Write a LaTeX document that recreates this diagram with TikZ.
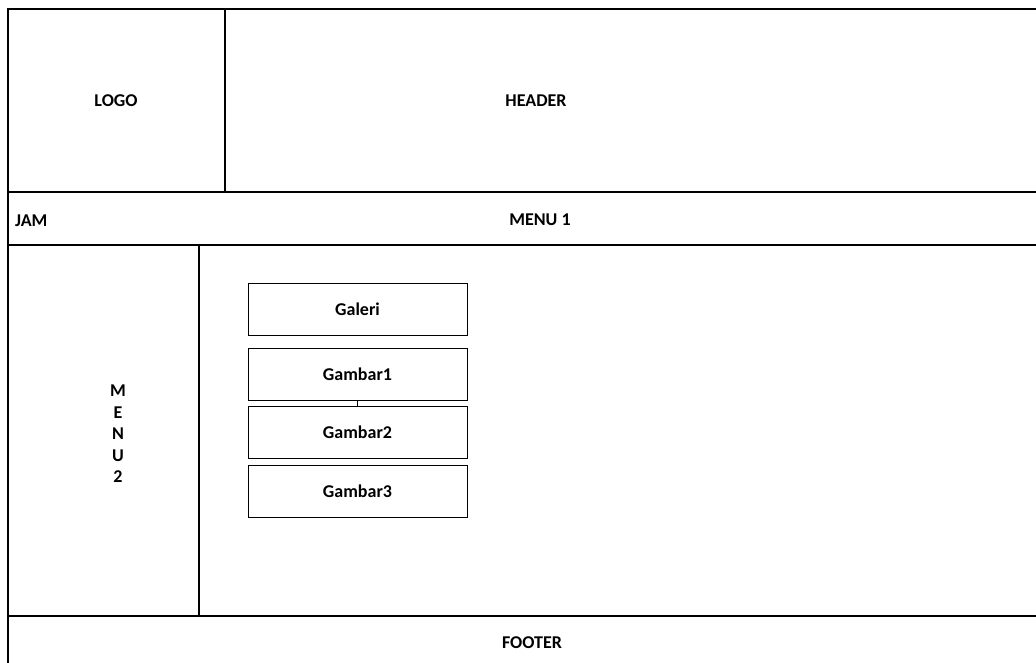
\documentclass[tikz,border=0pt]{standalone}
\usepackage{fontspec}
\setmainfont{Carlito}
\usetikzlibrary{positioning}
\begin{document}
\begin{tikzpicture}[
    x=1pt, y=-1pt,
    node distance=5.5pt,
    frame/.style={line width=1.3pt},
    txt/.style={font=\fontsize{18}{21.5}\selectfont\bfseries, inner sep=0pt},
    item/.style={draw, line width=1pt, minimum width=219pt, minimum height=52pt, font=\fontsize{18}{21}\selectfont\bfseries},
    line/.style={line width=1pt}
  ]
  \useasboundingbox (0,0) rectangle (1036,662);
  \clip (0,0) rectangle (1036,662);

  % layout
  \draw[frame] (1040,9) -- (8,9) -- (8,666);
  \draw[frame] (225,9) -- (225,192);
  \draw[frame] (8,192) -- (1040,192);
  \draw[frame] (8,245) -- (1040,245);
  \draw[frame] (199,245) -- (199,616);
  \draw[frame] (8,616) -- (1040,616);

  \node[txt] (logo) at (116,101) {LOGO};
  \node[txt] (header) at (536,101) {HEADER};
  \node[txt, anchor=west] (jam) at (15,221) {JAM};
  \node[txt] (menu1) at (540,220) {MENU 1};
  \node[txt, align=center] (menu2) at (118,434) {M\\E\\N\\U\\2};
  \node[txt] (footer) at (532,643) {FOOTER};

  % galeri
  \node[item] (galeri) at (357.5,309.5) {Galeri};
  \node[item, below=11.5pt of galeri] (gambar1) {Gambar1};
  \node[item, below=of gambar1] (gambar2) {Gambar2};
  \node[item, below=of gambar2] (gambar3) {Gambar3};
  \draw[line] (gambar1.south) -- (gambar2.north);
\end{tikzpicture}
\end{document}
